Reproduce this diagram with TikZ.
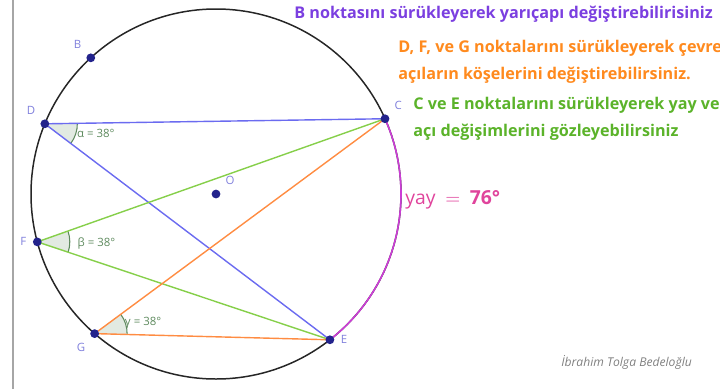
\documentclass[tikz,border=0pt]{standalone}
\usepackage{fontspec}
\setmainfont{Open Sans}
\usepackage{tikz}
\usetikzlibrary{angles, backgrounds, positioning}
\definecolor{ggpurple}{HTML}{7B3FE0}
\definecolor{ggorange}{HTML}{FF8A1E}
\definecolor{ggorangeline}{HTML}{FF8C42}
\definecolor{gggreen}{HTML}{5BB32A}
\definecolor{gggreenline}{HTML}{86CF4A}
\definecolor{ggblue}{HTML}{6B6BF0}
\definecolor{ggnavy}{HTML}{23238C}
\definecolor{gglabel}{HTML}{8080DC}
\definecolor{ggarc}{HTML}{CC3DD6}
\definecolor{ggpink}{HTML}{E0449C}
\definecolor{ggangle}{HTML}{5E8A5E}

\begin{document}
\begin{tikzpicture}[
  pt/.style={circle, fill=ggnavy, inner sep=0pt, minimum size=5pt},
  ptlabel/.style={font=\fontsize{6.5}{8}\selectfont, text=gglabel},
  chord/.style={line width=0.8pt},
  anglemark/.style={draw=ggangle, fill=ggangle!18, line width=0.6pt, angle radius=0.65cm},
  anglelabel/.style={anchor=west, inner sep=0pt, font=\fontsize{6.5}{8}\selectfont, text=ggangle},
  hint/.style={anchor=west, align=left, inner sep=0pt, font=\bfseries\fontsize{9.2}{15.3}\selectfont}
]
\useasboundingbox (0,0) rectangle (14.4,7.78);

% Frame
\draw[gray!70, line width=0.6pt] (0.26,0) -- (0.26,7.78);

% Centre and points on the circle
\node[pt, label={[ptlabel]above right:O}] (O) at (4.32,3.9) {};
\node[pt, label={[ptlabel]above left:B}] (B) at ([shift={(132.6:3.7)}]O) {};
\node[pt, label={[ptlabel]above left:D}] (D) at ([shift={(157.7:3.7)}]O) {};
\node[pt, label={[ptlabel]above right:C}] (C) at ([shift={(24:3.7)}]O) {};
\node[pt, label={[ptlabel]left:F}] (F) at ([shift={(195:3.7)}]O) {};
\node[pt, label={[ptlabel]below left:G}] (G) at ([shift={(229:3.7)}]O) {};
\node[pt, label={[ptlabel]right:E}] (E) at ([shift={(-52:3.7)}]O) {};

\begin{scope}[on background layer]
% Circle and arc CE
\draw[line width=0.85pt, black!85] (O) circle[radius=3.7];
\draw[line width=0.9pt, ggarc] (C.center) arc[start angle=24, end angle=-52, radius=3.7];

% Inscribed angles
\pic[anglemark] {angle = E--D--C};
\pic[anglemark] {angle = E--F--C};
\pic[anglemark] {angle = E--G--C};

% Chords
\draw[chord, ggblue] (D.center) -- (C.center) (D.center) -- (E.center);
\draw[chord, gggreenline] (F.center) -- (C.center) (F.center) -- (E.center);
\draw[chord, ggorangeline] (G.center) -- (C.center) (G.center) -- (E.center);
\end{scope}

% Angle labels
\node[anglelabel] (alpha) at ([shift={(0.64,-0.2)}]D) {α = 38°};
\node[anglelabel] (beta) at ([shift={(0.8,-0.04)}]F) {β = 38°};
\node[anglelabel] (gamma) at ([shift={(0.6,0.22)}]G) {γ = 38°};

% Arc measure
\node[anchor=west, inner sep=0pt, text=ggpink, font=\fontsize{11}{13}\selectfont] (yay) at (8.1,3.78) {yay\enspace$=$\enspace\textbf{76°}};

% Hints
\node[hint, text=ggpurple] (hintB) at (5.88,7.5) {B noktasını sürükleyerek yarıçapı değiştirebilirisiniz};
\node[hint, text=ggorange] (hintDFG) at (7.96,6.55) {D, F, ve G noktalarını sürükleyerek çevre\\açıların köşelerini değiştirebilirsiniz.};
\node[hint, text=gggreen] (hintCE) at (8.26,5.4) {C ve E noktalarını sürükleyerek yay ve\\açı değişimlerini gözleyebilirsiniz};

% Author
\node[anchor=west, inner sep=0pt, text=gray, font=\itshape\fontsize{6.9}{8}\selectfont] (author) at (11.22,0.54) {İbrahim Tolga Bedeloğlu};

\end{tikzpicture}
\end{document}
